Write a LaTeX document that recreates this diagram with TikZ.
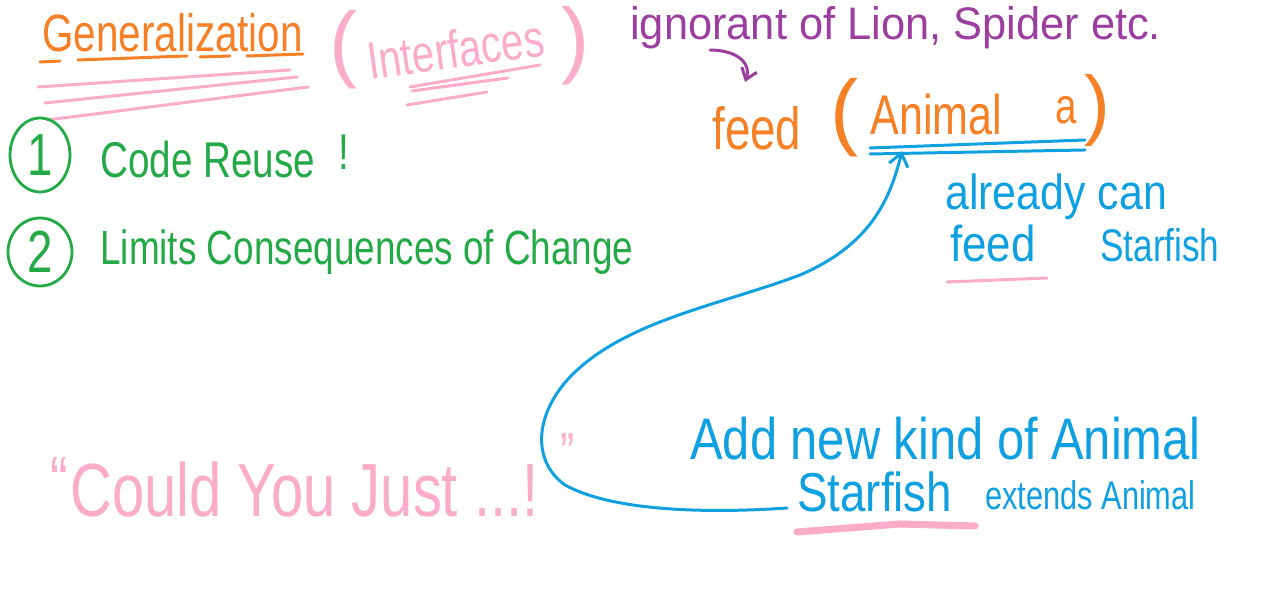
\documentclass[tikz,border=0pt]{standalone}
\usepackage{fontspec}
\setmainfont{Liberation Sans}
\usetikzlibrary{arrows.meta,shapes.geometric}
\definecolor{orangeC}{RGB}{245,128,37}
\definecolor{pinkC}{RGB}{250,172,200}
\definecolor{purpleC}{RGB}{155,62,160}
\definecolor{greenC}{RGB}{35,170,70}
\definecolor{blueC}{RGB}{15,160,225}
\newcommand\hw[3][1.3]{\fontsize{#2}{#2}\selectfont\scalebox{1}[#1]{#3}}
\newcommand\pr[2]{\fontsize{#1}{#1}\selectfont #2}
\begin{document}
\begin{tikzpicture}[x=0.02cm,y=-0.02cm,
  txt/.style={inner sep=0pt, anchor=base west},
  par/.style={inner sep=0pt, anchor=center},
  stroke/.style={line width=1.7pt, line cap=round, line join=round}]
\useasboundingbox (0,0) rectangle (1268,590);

% ---- Generalization (Interfaces)
\node[txt, text=orangeC] (gen) at (42,52) {\hw{23}{Generalization}};
\draw[stroke, orangeC] (40,62) -- (60,61);
\draw[stroke, orangeC] (78,60) -- (187,56);
\draw[stroke, orangeC] (200,57) -- (230,56);
\draw[stroke, orangeC] (247,56) -- (303,54);
\draw[stroke, pinkC] (38,87) -- (290,70);
\draw[stroke, pinkC] (45,103) -- (297,77);
\draw[stroke, pinkC] (47,120) -- (308,87);

\node[par, text=pinkC] (lpar) at (344,50) {\pr{48}{(}};
\node[txt, text=pinkC, rotate=8] (intf) at (370,80) {\hw{23}{Interfaces}};
\node[par, text=pinkC] (rpar) at (576,46) {\pr{48}{)}};
\draw[stroke, pinkC] (410,87) -- (540,65);
\draw[stroke, pinkC] (412,91) -- (508,78) -- (440,87);
\draw[stroke, pinkC] (407,105) -- (487,92);

% ---- numbered points
\node[draw=greenC, line width=1.6pt, ellipse, inner sep=0pt, minimum width=1.2cm, minimum height=1.48cm] (c1) at (40,155) {};
\node[par, text=greenC] (n1) at (c1) {\hw{26}{1}};
\node[txt, text=greenC] (reuse) at (100,178) {\hw{22}{Code Reuse}};
\node[txt, text=greenC] (excl) at (338,170) {\hw{22}{!}};

\node[draw=greenC, line width=1.6pt, ellipse, inner sep=0pt, minimum width=1.28cm, minimum height=1.36cm] (c2) at (40,252) {};
\node[par, text=greenC] (n2) at (c2) {\hw{26}{2}};
\node[txt, text=greenC] (limits) at (100,265) {\hw{21}{Limits Consequences of Change}};

% ---- ignorant / feed
\node[txt, text=purpleC] (ign) at (630,40) {\hw[1.05]{24.7}{ignorant of Lion, Spider etc.}};
\coordinate (pa1) at (710,50);
\coordinate (pa2) at (745,82);
\draw[stroke, purpleC, -{Straight Barb[length=6pt,width=9pt]}] (pa1) .. controls (735,50) and (752,62) .. (pa2);

\node[txt, text=orangeC] (feed) at (712,150) {\hw{26}{feed}};
\node[par, text=orangeC] (olp) at (845,118) {\pr{48}{(}};
\node[txt, text=orangeC] (animal) at (870,135) {\hw{24.5}{Animal}};
\node[txt, text=orangeC] (avar) at (1055,124) {\hw{22}{a}};
\node[par, text=orangeC] (orp) at (1097,111) {\pr{44}{)}};
\coordinate (ul1a) at (870,148);
\coordinate (ul1b) at (1085,140);
\coordinate (ul2a) at (870,154);
\coordinate (ul2b) at (1085,150);
\draw[stroke, blueC] (ul1a) -- (ul1b);
\draw[stroke, blueC] (ul2a) -- (ul2b);

% ---- already can feed Starfish
\node[txt, text=blueC] (already) at (945,210) {\hw[1.15]{24.4}{already can}};
\node[txt, text=blueC] (feedb) at (950,262) {\hw[1.15]{25}{feed}};
\node[txt, text=blueC] (star1) at (1100,262) {\hw{20}{Starfish}};
\draw[stroke, pinkC] (947,282) -- (1047,278);

% ---- Add new kind of Animal
\node[txt, text=blueC] (addnew) at (690,460) {\hw[1.2]{27.8}{Add new kind of Animal}};
\node[txt, text=blueC] (star2) at (797,512) {\hw[1.2]{26}{Starfish}};
\node[txt, text=blueC] (extends) at (985,510) {\hw{17.5}{extends Animal}};
\draw[line width=4pt, line cap=round, pinkC] (797,532) -- (900,524) -- (975,526);

% ---- blue arrow
\coordinate (bstart) at (787,508);
\coordinate (btip) at (902,151);
\draw[stroke, blueC, -{Straight Barb[length=7pt,width=11pt]}]
  (bstart) .. controls (700,514) and (610,510) .. (565,485)
  .. controls (530,460) and (535,410) .. (575,372)
  .. controls (630,320) and (720,305) .. (800,275)
  .. controls (870,245) and (890,200) .. (btip);

% ---- Could you just
\node[txt, text=pinkC] (q1) at (50,505) {\hw{30}{“}};
\node[txt, text=pinkC] (could) at (70,517) {\hw{33}{Could You Just ...!}};
\node[txt, text=pinkC] (q2) at (560,472) {\hw{24}{”}};
\end{tikzpicture}
\end{document}
